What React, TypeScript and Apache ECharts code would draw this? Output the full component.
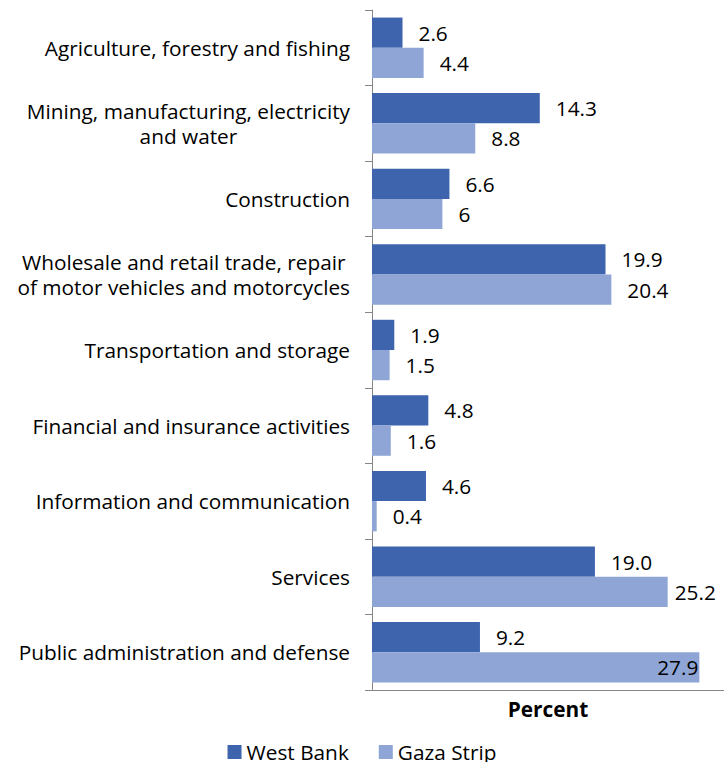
import React, { useEffect, useRef } from 'react';
import * as echarts from 'echarts';

const categories = [
  'Agriculture, forestry and fishing',
  'Mining, manufacturing, electricity\nand water',
  'Construction',
  'Wholesale and retail trade, repair\nof motor vehicles and motorcycles',
  'Transportation and storage',
  'Financial and insurance activities',
  'Information and communication',
  'Services',
  'Public administration and defense',
];
const westBank = [2.6, 14.3, 6.6, 19.9, 1.9, 4.8, 4.6, 19.0, 9.2];
const gazaStrip = [4.4, 8.8, 6, 20.4, 1.5, 1.6, 0.4, 25.2, 27.9];
const westBankText = ['2.6', '14.3', '6.6', '19.9', '1.9', '4.8', '4.6', '19.0', '9.2'];
const gazaStripText = ['4.4', '8.8', '6', '20.4', '1.5', '1.6', '0.4', '25.2', '27.9'];
const seriesNames = ['West Bank', 'Gaza Strip'];
const xMin = 0;
const xMax = 30;

const FONT = 'Open Sans';
const FS = 20.8;

function makeData(values: number[], texts: string[]) {
  return values.map((v, i) => {
    const item: any = { value: v };
    if (v > 27) {
      item.label = { position: 'insideRight', distance: 1, formatter: texts[i] };
    } else if (v > 24) {
      item.label = { position: 'right', distance: 7, formatter: texts[i] };
    } else {
      item.label = { formatter: texts[i] };
    }
    return item;
  });
}

export default function App() {
  const ref = useRef<HTMLDivElement>(null);
  useEffect(() => {
    if (!ref.current) return;
    const chart = echarts.init(ref.current, undefined, { renderer: 'svg' });
    const labelStyle = {
      show: true,
      position: 'right',
      distance: 16,
      color: '#000',
      fontFamily: FONT,
      fontSize: FS,
    };
    chart.setOption({
      animation: false,
      textStyle: { fontFamily: FONT },
      grid: { left: 372, right: -4, top: 10, bottom: 72, containLabel: false },
      legend: {
        data: seriesNames,
        left: 'center',
        top: 741,
        padding: 0,
        itemWidth: 14,
        itemHeight: 14,
        itemGap: 30,
        icon: 'rect',
        textStyle: { fontFamily: FONT, fontSize: FS, color: '#000', lineHeight: 22 },
      },
      xAxis: {
        type: 'value',
        min: xMin,
        max: xMax,
        name: 'Percent',
        nameLocation: 'middle',
        nameGap: 8,
        nameTextStyle: { fontFamily: FONT, fontSize: FS, fontWeight: 'bold', color: '#000' },
        axisLine: { show: true, lineStyle: { color: '#868686', width: 1 } },
        axisTick: { show: false },
        axisLabel: { show: false },
        splitLine: { show: false },
      },
      yAxis: {
        type: 'category',
        inverse: true,
        data: categories,
        axisLine: { show: true, lineStyle: { color: '#868686', width: 1 } },
        axisTick: { show: true, length: 7, lineStyle: { color: '#868686' } },
        axisLabel: {
          margin: 22,
          color: '#000',
          fontFamily: FONT,
          fontSize: FS,
          formatter: (v: string) =>
            v.split('\n').map((l) => `{c|${l}}`).join('\n'),
          rich: {
            c: { align: 'center', fontFamily: FONT, fontSize: FS, lineHeight: 25, color: '#000' },
          },
        },
        splitLine: { show: false },
      },
      series: [
        {
          name: seriesNames[0],
          type: 'bar',
          data: makeData(westBank, westBankText),
          barGap: '0%',
          barCategoryGap: '20%',
          itemStyle: { color: '#3D64AD' },
          label: labelStyle,
        },
        {
          name: seriesNames[1],
          type: 'bar',
          data: makeData(gazaStrip, gazaStripText),
          barGap: '0%',
          barCategoryGap: '20%',
          itemStyle: { color: '#8EA5D6' },
          label: labelStyle,
        },
      ],
    });
    return () => chart.dispose();
  }, []);
  return (
    <div
      ref={ref}
      style={{ position: 'fixed', left: 0, top: 0, width: 724, height: 762, background: '#fff' }}
    />
  );
}
